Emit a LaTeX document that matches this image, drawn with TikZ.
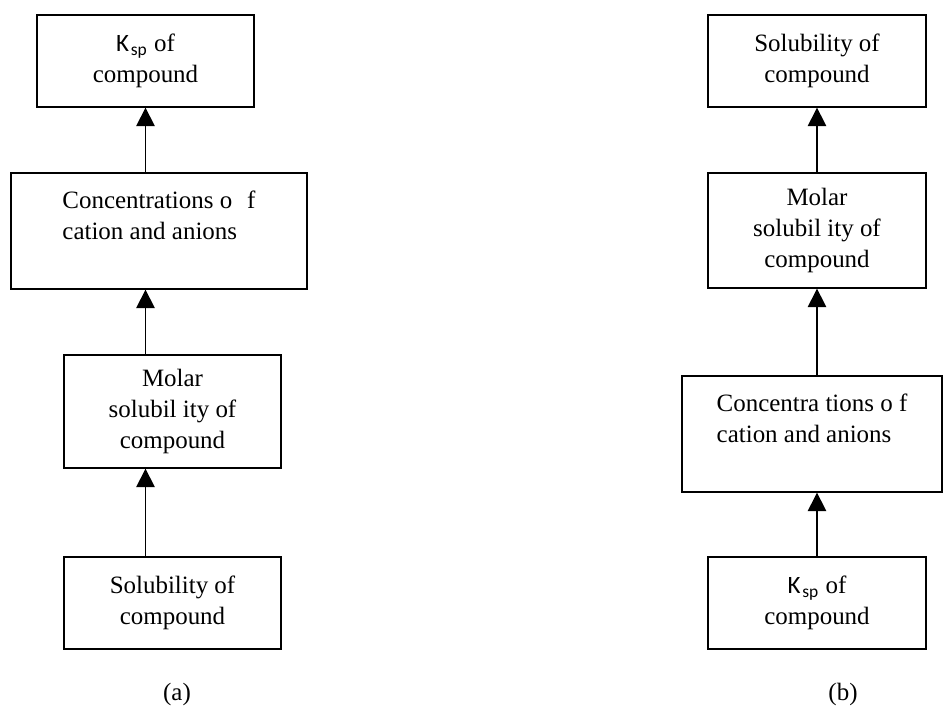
\documentclass[tikz,border=0pt]{standalone}
\usepackage{fontspec}
\setmainfont{Liberation Serif}
\newfontfamily\kfont{Carlito}
\usetikzlibrary{arrows.meta}
\newcommand{\Ksp}{{\kfont K\kern1pt\textsubscript{sp}}}
\begin{document}
\begin{tikzpicture}
    \tikzset{
    box/.style={draw, line width=0.75pt, inner sep=0pt, align=center,
                minimum width=4.34cm, minimum height=1.84cm,
                font=\fontsize{14.2}{17.6}\selectfont},
    arr/.style={-{Triangle[length=3.7mm,width=3.7mm]}, line width=0.75pt},
    lab/.style={anchor=base, font=\fontsize{14.2}{17.6}\selectfont},
    }
    \useasboundingbox (0,0) rectangle (18.86,-14.12);
    % (a)
    \node[box] (a1) at (2.91,-1.22) {\Ksp{} of\\compound};
    \node[box, minimum width=5.92cm, minimum height=2.32cm, align=left] (a2) at (3.18,-4.62) {Concentrations o\hspace{0.6em}f\\cation and anions\\\mbox{}};
    \node[box, minimum height=2.26cm] (a3) at (3.45,-8.23) {Molar\\solubil ity of\\compound};
    \node[box] (a4) at (3.45,-12.06) {Solubility of\\compound};
    \node[lab] (la) at (3.54,-14.0) {(a)};

    % (b)
    \node[box, minimum width=4.36cm] (b1) at (16.34,-1.22) {Solubility of\\compound};
    \node[box, minimum width=4.36cm, minimum height=2.30cm] (b2) at (16.34,-4.61) {Molar\\solubil ity of\\compound};
    \node[box, minimum width=5.20cm, minimum height=2.32cm, align=left] (b3) at (16.24,-8.68) {Concentra tions o f\\cation and anions\\\mbox{}};
    \node[box, minimum width=4.36cm] (b4) at (16.34,-12.06) {\Ksp{} of\\compound};
    \node[lab] (lb) at (16.86,-14.0) {(b)};

    \draw[arr] (a2.north -| a1) -- (a1.south);
    \draw[arr] (a3.north -| a1) -- (a2.south -| a1);
    \draw[arr] (a4.north -| a1) -- (a3.south -| a1);

    \draw[arr] (b2.north) -- (b1.south);
    \draw[arr] (b3.north -| b1) -- (b2.south);
    \draw[arr] (b4.north) -- (b3.south -| b4);
\end{tikzpicture}
\end{document}
